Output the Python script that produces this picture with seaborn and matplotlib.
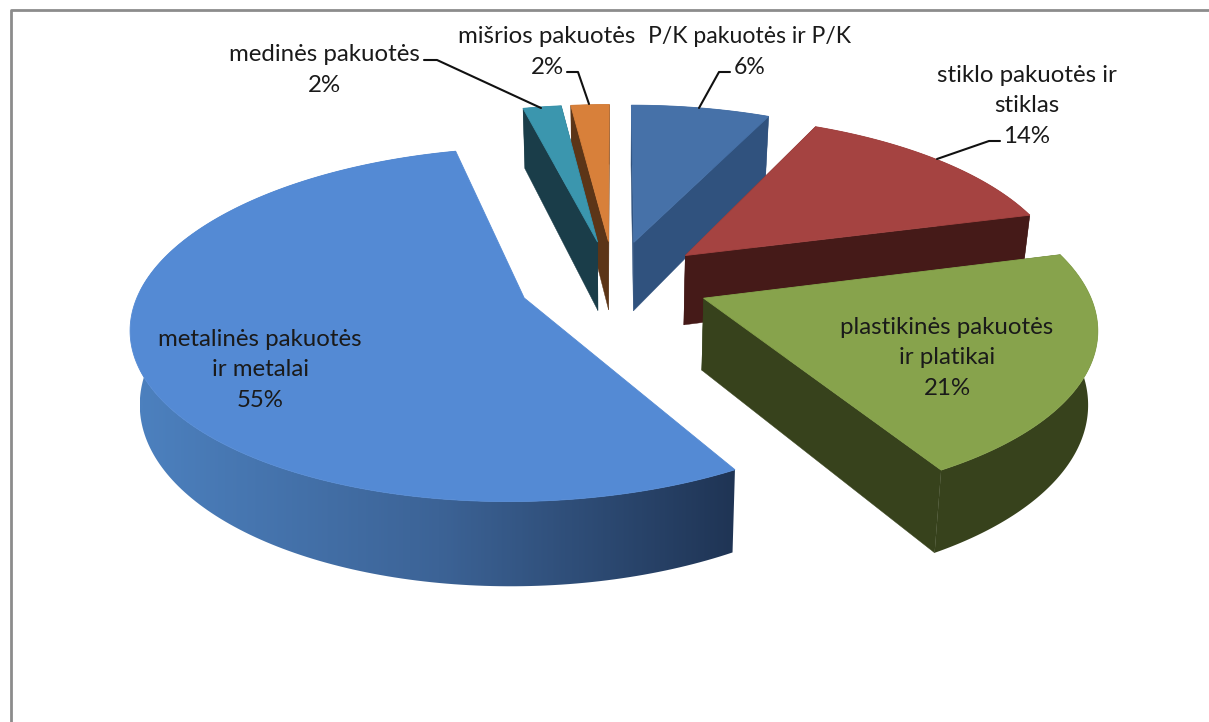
"""
Exploded 3D pie of packaging waste shares, drawn with a small perspective
projection since matplotlib has no 3D pie.
"""
import numpy as np
import matplotlib
matplotlib.use('Agg')
import matplotlib.pyplot as plt
from matplotlib.patches import Polygon
import seaborn as sns

labels = ['P/K pakuotės ir P/K\n6%', 'stiklo pakuotės ir\nstiklas\n14%',
          'plastikinės pakuotės\nir platikai\n21%',
          'metalinės pakuotės\nir metalai\n55%',
          'medinės pakuotės\n2%', 'mišrios pakuotės\n2%']
# unrounded shares
shares = [6.9, 13.9, 20.8, 54.6, 1.9, 1.9]
top_colors = ['#4671a8', '#a54341', '#87a34c', '#548ad4', '#3b96ae', '#d8803a']
side_colors = ['#30527e', '#451a18', '#37421c', None, '#1a3d49', '#5c3517']
label_pos = [(750, 52), (1027, 106), (947, 358), (260, 370), (324, 70), (547, 52)]
label_size = [16.6, 17.3, 17.3, 17.3, 17.3, 17.3]
leaders = [[(730, 72), (719, 72), (699, 108)],
           [(1000, 141), (989, 141), (937, 159)],
           None, None,
           [(424, 60), (437, 60), (541, 108)],
           [(567, 72), (578, 72), (589, 104)]]

sns.set_theme(style='white')
plt.rcParams['font.family'] = ['Lato', 'DejaVu Sans']

CX, CY = 614.0, 282.0
RX, RY, PERSP = 382.0, 168.3, 0.148
EXPLODE = 0.25
DEPTH, BASE_SCALE = 71.0, 0.98


def project(wx, wy):
    """Screen position of a point on the pie's top face, plus its bottom twin."""
    w = 1 + PERSP * wy
    x, y = CX + RX * wx / w, CY - RY * wy / w
    return x, y, CX + (x - CX) * BASE_SCALE, y + DEPTH / w


def draw_slice(ax, start, end, top, side, ramp=None):
    mid = (start + end) / 2
    ox, oy = EXPLODE * np.sin(mid), EXPLODE * np.cos(mid)
    thetas = np.linspace(start, end, 200)
    xs, ys, bx, by = project(ox + np.sin(thetas), oy + np.cos(thetas))
    ax0, ay0, bx0, by0 = project(ox, oy)

    if ramp is None:
        # cut faces on both sides of the slice
        for i in (0, -1):
            ax.fill([ax0, xs[i], bx[i], bx0], [ay0, ys[i], by[i], by0],
                    color=side, lw=0.3, zorder=1)

    # outer wall
    wall = Polygon(np.c_[np.r_[xs, bx[::-1]], np.r_[ys, by[::-1]]], closed=True,
                   facecolor=side if ramp is None else 'none', edgecolor='none',
                   zorder=1)
    ax.add_patch(wall)
    if ramp is not None:
        img = ax.imshow(np.array(ramp)[None, :, :], extent=[140, 740, 722, 0],
                        aspect='auto', zorder=1, interpolation='bilinear')
        img.set_clip_path(wall)

    # top face
    ax.fill(np.r_[ax0, xs], np.r_[ay0, ys], color=top, lw=0.6, zorder=1)


fig = plt.figure(figsize=(12.09, 7.22), dpi=100)
ax = fig.add_axes([0, 0, 1, 1])
ax.axis('off')

# chart frame, cut by the image on the right and at the bottom
ax.plot([11, 11, 1209], [722, 10, 10], color='#8c8c8c', lw=2.0, zorder=0)

edges = np.deg2rad(np.r_[0, np.cumsum(shares)] * 360 / sum(shares))
blue_ramp = sns.blend_palette(['#4c80be', '#3c6396', '#1f3454'], 100)

# painter's order, far slices first
for i in [0, 5, 4, 1, 2, 3]:
    draw_slice(ax, edges[i], edges[i + 1], top_colors[i], side_colors[i],
               blue_ramp if side_colors[i] is None else None)

for line in leaders:
    if line is not None:
        lx, ly = zip(*line)
        ax.plot(lx, ly, color='#111111', lw=1.5, zorder=2)

for text, (x, y), size in zip(labels, label_pos, label_size):
    ax.text(x, y, text, ha='center', va='center', fontsize=size,
            color='#1a1a1a', linespacing=1.53, zorder=3)

ax.set_xlim(0, 1209)
ax.set_ylim(722, 0)
plt.savefig('out.png', dpi=100)
